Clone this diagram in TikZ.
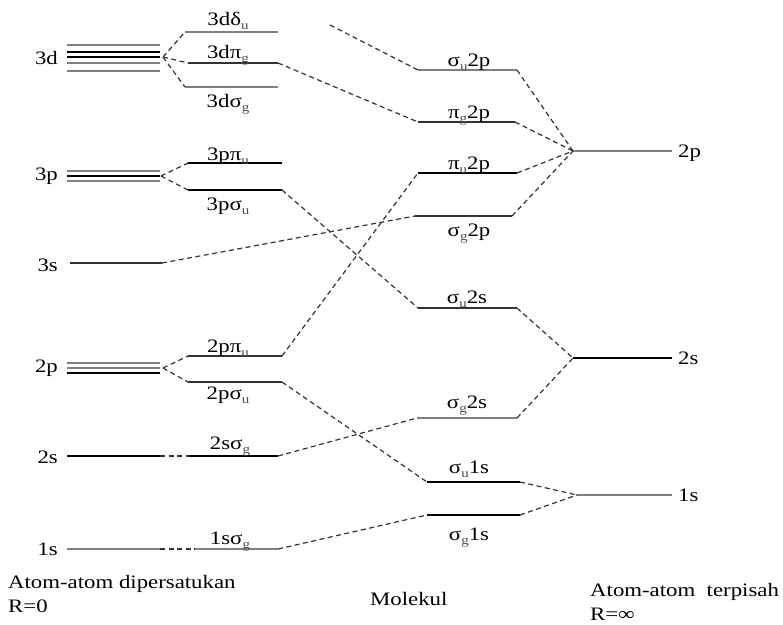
\documentclass[tikz,border=0pt]{standalone}
\usepackage{fontspec}
\setmainfont[FakeStretch=1.2]{Liberation Serif}
\tikzset{
  lv/.style={line width=1.3pt, draw=black!80},
  lvg/.style={line width=1.3pt, draw=black!50},
  lvk/.style={line width=1.3pt, draw=black},
  cn/.style={line width=1.2pt, draw=black!80, dash pattern=on 5pt off 3.5pt},
  lb/.style={font=\fontsize{19}{22}\selectfont, inner sep=0pt},
  lbs/.style={font=\fontsize{19}{22}\selectfont, inner sep=0pt, anchor=base},
}
\newcommand\lsub[1]{\raisebox{-4pt}{\fontsize{12.5}{12.5}\selectfont\color{black!70}#1}}
\begin{document}
\begin{tikzpicture}[x=1pt,y=-1pt]
\useasboundingbox (0,0) rectangle (783,624);

% ---------- coordinates: united atom ----------
\coordinate (c3d) at (163,57);
\coordinate (c3p) at (161,176);
\coordinate (s3r) at (162,263);
\coordinate (c2p) at (163,368);
% left levels of correlation
\coordinate (dUl) at (185,32);  \coordinate (dUr) at (278,32);
\coordinate (dPl) at (188,63);  \coordinate (dPr) at (278,63);
\coordinate (dSl) at (185,87);  \coordinate (dSr) at (278,87);
\coordinate (pPl) at (188,163); \coordinate (pPr) at (282,163);
\coordinate (pSl) at (188,190); \coordinate (pSr) at (282,190);
\coordinate (qPl) at (188,356); \coordinate (qPr) at (282,356);
\coordinate (qSl) at (188,382); \coordinate (qSr) at (282,382);
\coordinate (s2e) at (160,456); \coordinate (tSl) at (190,456); \coordinate (tSr) at (278,456);
\coordinate (s1e) at (160,549); \coordinate (oSl) at (195,549); \coordinate (oSr) at (278,549);
\coordinate (free) at (330,25);
% molecule levels
\coordinate (m1l) at (418,70);  \coordinate (m1r) at (517,70);
\coordinate (m2l) at (418,122); \coordinate (m2r) at (515,122);
\coordinate (m3l) at (418,173); \coordinate (m3r) at (517,173);
\coordinate (m4l) at (415,216); \coordinate (m4r) at (512,216);
\coordinate (m5l) at (418,308); \coordinate (m5r) at (517,308);
\coordinate (m6l) at (417,418); \coordinate (m6r) at (517,418);
\coordinate (m7l) at (427,482); \coordinate (m7r) at (520,482);
\coordinate (m8l) at (427,515); \coordinate (m8r) at (520,515);
% separated atoms
\coordinate (r2p) at (573,151); \coordinate (r2pe) at (672,151);
\coordinate (r2s) at (573,358); \coordinate (r2se) at (672,358);
\coordinate (r1s) at (577,495); \coordinate (r1se) at (672,495);

% ---------- united-atom levels ----------
\draw[lvg] (67,45) -- (160,45);
\draw[lvk] (67,52) -- (160,52);
\draw[lvk] (67,57) -- (160,57);
\draw[lvg] (67,63) -- (160,63);
\draw[lvg] (67,71) -- (160,71);
\draw[lvg] (67,171) -- (160,171);
\draw[lvk] (67,176) -- (160,176);
\draw[lvg] (67,181) -- (160,181);
\draw[lv] (70,263) -- (s3r);
\draw[lvg] (67,363) -- (160,363);
\draw[lvg] (67,368) -- (160,368);
\draw[lvk] (67,373) -- (160,373);
\draw[lvk] (67,456) -- (s2e);
\draw[lvg] (67,549) -- (s1e);

\node[lb, anchor=east] (L3d) at (58,58) {3d};
\node[lb, anchor=east] (L3p) at (58,176) {3p};
\node[lb, anchor=east] (L3s) at (58,265) {3s};
\node[lb, anchor=east] (L2p) at (58,368) {2p};
\node[lb, anchor=east] (L2s) at (58,457) {2s};
\node[lb, anchor=east] (L1s) at (58,549) {1s};

% ---------- correlation levels ----------
\draw[lvg] (dUl) -- (dUr);
\draw[lv]  (dPl) -- (dPr);
\draw[lvg] (dSl) -- (dSr);
\draw[lvk] (pPl) -- (pPr);
\draw[lvk] (pSl) -- (pSr);
\draw[lv]  (qPl) -- (qPr);
\draw[lv]  (qSl) -- (qSr);
\draw[lvk] (tSl) -- (tSr);
\draw[lvg] (oSl) -- (oSr);

\node[lbs] (t1) at (228,25) {3dδ\lsub{u}};
\node[lbs] (t2) at (228,58) {3dπ\lsub{g}};
\node[lbs] (t3) at (228,107) {3dσ\lsub{g}};
\node[lbs] (t4) at (228,160) {3pπ\lsub{u}};
\node[lbs] (t5) at (228,210) {3pσ\lsub{u}};
\node[lbs] (t6) at (228,352) {2pπ\lsub{u}};
\node[lbs] (t7) at (228,399) {2pσ\lsub{u}};
\node[lbs] (t8) at (230,449) {2sσ\lsub{g}};
\node[lbs] (t9) at (230,544) {1sσ\lsub{g}};

% ---------- molecule levels ----------
\draw[lvg] (m1l) -- (m1r);
\draw[lv]  (m2l) -- (m2r);
\draw[lvk] (m3l) -- (m3r);
\draw[lv]  (m4l) -- (m4r);
\draw[lv]  (m5l) -- (m5r);
\draw[lvg] (m6l) -- (m6r);
\draw[lvk] (m7l) -- (m7r);
\draw[lvk] (m8l) -- (m8r);

\node[lbs] (u1) at (469,66)  {σ\lsub{u}2p};
\node[lbs] (u2) at (469,118) {π\lsub{g}2p};
\node[lbs] (u3) at (469,169) {π\lsub{u}2p};
\node[lbs] (u4) at (469,236) {σ\lsub{g}2p};
\node[lbs] (u5) at (467,303) {σ\lsub{u}2s};
\node[lbs] (u6) at (467,408) {σ\lsub{g}2s};
\node[lbs] (u7) at (469,473) {σ\lsub{u}1s};
\node[lbs] (u8) at (469,540) {σ\lsub{g}1s};

% ---------- separated atoms ----------
\draw[lvg] (r2p) -- (r2pe);
\draw[lvk] (r2s) -- (r2se);
\draw[lvg] (r1s) -- (r1se);
\node[lb, anchor=west] (R2p) at (678,153) {2p};
\node[lb, anchor=west] (R2s) at (678,358) {2s};
\node[lb, anchor=west] (R1s) at (678,495) {1s};

% ---------- connectors ----------
\draw[cn] (c3d) -- (dUl);
\draw[cn] (c3d) -- (dPl);
\draw[cn] (c3d) -- (dSl);
\draw[cn] (c3p) -- (pPl);
\draw[cn] (c3p) -- (pSl);
\draw[cn] (c2p) -- (qPl);
\draw[cn] (c2p) -- (qSl);
\draw[cn] (s2e) -- (tSl);
\draw[cn] (s1e) -- (oSl);

\draw[cn] (free) -- (m1l);
\draw[cn] (dPr) -- (m2l);
\draw[cn] (qPr) -- (m3l);
\draw[cn] (s3r) -- (m4l);
\draw[cn] (pSr) -- (m5l);
\draw[cn] (tSr) -- (m6l);
\draw[cn] (qSr) -- (m7l);
\draw[cn] (oSr) -- (m8l);

\draw[cn] (m1r) -- (r2p);
\draw[cn] (m2r) -- (r2p);
\draw[cn] (m3r) -- (r2p);
\draw[cn] (m4r) -- (r2p);
\draw[cn] (m5r) -- (r2s);
\draw[cn] (m6r) -- (r2s);
\draw[cn] (m7r) -- (r1s);
\draw[cn] (m8r) -- (r1s);

% ---------- captions ----------
\node[lb, anchor=base west] (cap1) at (8,588) {Atom-atom dipersatukan};
\node[lb, anchor=base west] (cap1b) at (8,612) {R=0};
\node[lb, anchor=base west] (cap2) at (370,605) {Molekul};
\node[lb, anchor=base west] (cap3) at (590,596) {Atom-atom\ \ terpisah};
\node[lb, anchor=base west] (cap3b) at (590,620) {R=∞};
\end{tikzpicture}
\end{document}
